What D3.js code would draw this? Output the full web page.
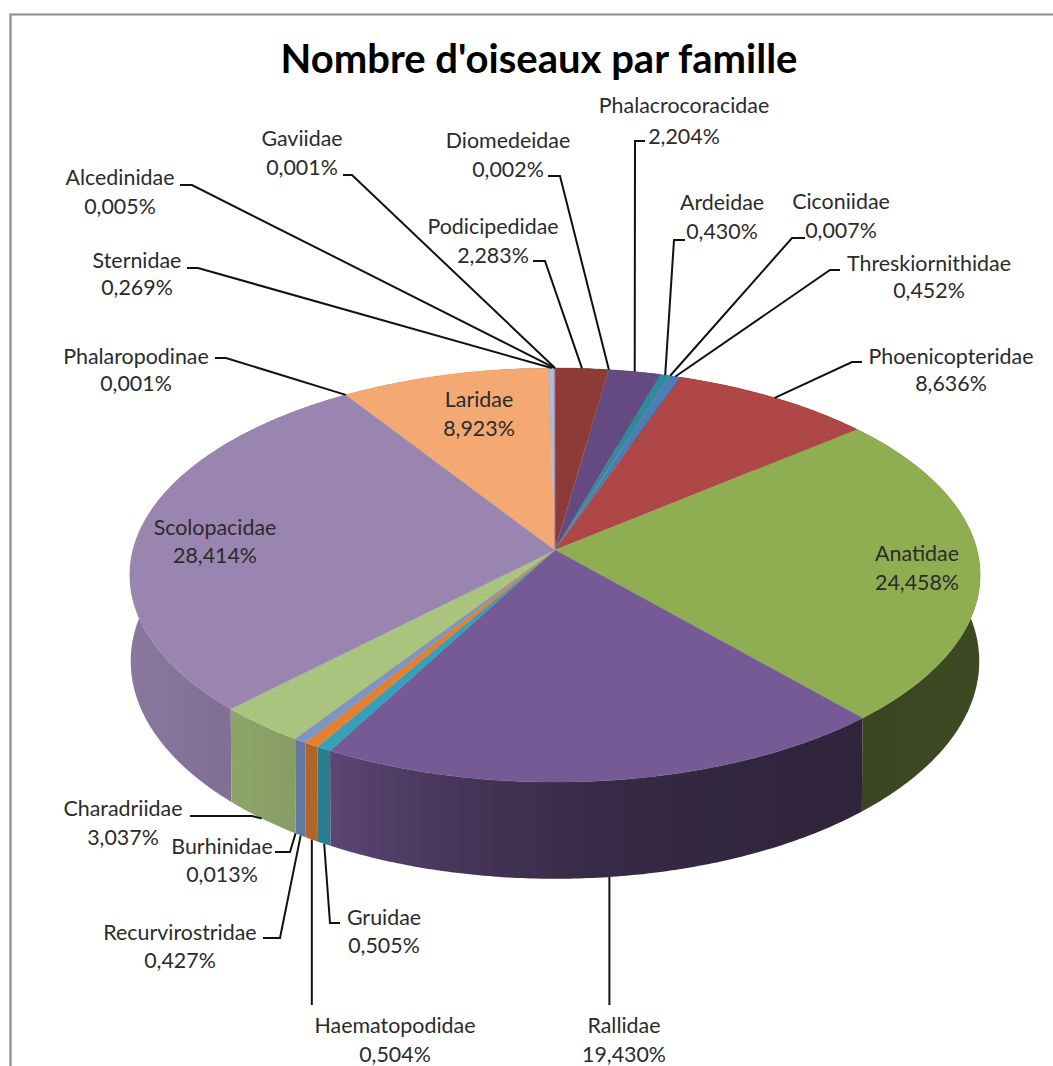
<!DOCTYPE html>
<html>
<head>
<meta charset="utf-8">
<title>Nombre d'oiseaux par famille</title>
<script src="https://cdn.jsdelivr.net/npm/d3@7"></script>
<style>
  html, body { margin: 0; padding: 0; background: #fff; overflow: hidden; }
  text { font-family: Lato, "Open Sans", sans-serif; fill: #2b2b2b; }
  .lbl { font-size: 21.4px; }
  .title { font-size: 40px; font-weight: 700; fill: #000; }
</style>
</head>
<body>
<div id="chart"></div>
<script>
////////////////////// Data //////////////////////
var families = ["Gaviidae","Podicipedidae","Diomedeidae","Phalacrocoracidae","Ardeidae","Ciconiidae",
  "Threskiornithidae","Phoenicopteridae","Anatidae","Rallidae","Gruidae","Haematopodidae",
  "Recurvirostridae","Burhinidae","Charadriidae","Scolopacidae","Phalaropodinae","Laridae",
  "Sternidae","Alcedinidae"];
var shares = [0.001,2.283,0.002,2.204,0.430,0.007,0.452,8.636,24.458,19.430,0.505,0.504,
  0.427,0.013,3.037,28.414,0.001,8.923,0.269,0.005];

////////////////////// Styles and layout //////////////////////
var topColors = ["#4f81bd","#8e3a38","#9bbb59","#644a80","#2f8a9e","#f79646","#4a7ebb","#ae4745",
  "#8fae52","#755a95","#35a0b8","#e08030","#7a96c8","#cd7371","#a9c47e","#9a84b0","#6fbdd1",
  "#f4a872","#a9bcdb","#c0504d"];

// label centre x, first line y, second line y
var labelPos = {
  Gaviidae:[302,139,168], Podicipedidae:[493,227,256], Diomedeidae:[508,141,170],
  Phalacrocoracidae:[684,106,137], Ardeidae:[722,203,232], Ciconiidae:[841,202,231],
  Threskiornithidae:[929,264,291], Phoenicopteridae:[951,357,384], Anatidae:[917,554,583],
  Rallidae:[624,1026,1055], Gruidae:[384,918,946], Haematopodidae:[395,1026,1055],
  Recurvirostridae:[180,933,961], Burhinidae:[222,847,875], Charadriidae:[123,809,838],
  Scolopacidae:[215,528,556], Phalaropodinae:[136,357,384], Laridae:[479,400,429],
  Sternidae:[137,261,288], Alcedinidae:[120,178,207]
};
// leader: stub start x, knee x, y of the stub (knee x null = straight down from the rim)
var leaderPos = {
  Gaviidae:[343,352,175], Podicipedidae:[533,545,261], Diomedeidae:[548,560,176],
  Phalacrocoracidae:[645,635,141], Ardeidae:[685,674,240], Ciconiidae:[805,792,238],
  Threskiornithidae:[840,830,270], Phoenicopteridae:[862,852,362], Rallidae:[null,null,1005],
  Gruidae:[340,330,923], Haematopodidae:[null,null,1005], Recurvirostridae:[263,280,938],
  Burhinidae:[275,290,852], Charadriidae:[190,252,816], Phalaropodinae:[215,226,358],
  Sternidae:[187,198,268], Alcedinidae:[180,192,185]
};

var W = 1053, H = 1066;
var cx = 555, cy = 550, rx = 422, ry = 204, persp = 0.121, depth = 85;

var svg = d3.select("#chart").append("svg").attr("width", W).attr("height", H);
var defs = svg.append("defs");

// frame of the chart area, runs off the right and bottom of the picture
svg.append("path").attr("d", "M10.5," + H + "V14.5H" + W)
  .attr("fill", "none").attr("stroke", "#8c8c8c").attr("stroke-width", 2.2);

svg.append("text").attr("class", "title").attr("x", 539).attr("y", 73)
  .attr("text-anchor", "middle").text("Nombre d'oiseaux par famille");

////////////////////// Pie and projection //////////////////////
var arcs = d3.pie().sort(null).value(function(d) { return d; })(shares);

// perspective view of the pie circle: z = 0 top face, z = 1 bottom face
function project(a, r, z) {
  var u = Math.sin(a) * r, v = Math.cos(a) * r;
  var w = 1 + persp * v;
  var shrink = 1 - 0.002 * z;
  return [cx + rx * shrink * u / w, cy - ry * v / w + z * depth / w];
}

function rimPoints(d, z) {
  var n = Math.max(2, Math.ceil((d.endAngle - d.startAngle) / 0.01));
  return d3.range(n + 1).map(function(i) {
    return project(d.startAngle + (d.endAngle - d.startAngle) * i / n, 1, z);
  });
}

// how dark the side wall gets, going from left to right on the picture
var sideShade = d3.scaleLinear().domain([130, 330, 450, 610, 860, 980]).range([0.9, 0.78, 0.6, 0.46, 0.4, 0.42]).clamp(true);

var line = d3.line();

// side walls, back ones first
var order = arcs.map(function(d, i) { return i; }).sort(function(a, b) {
  return Math.cos((arcs[b].startAngle + arcs[b].endAngle) / 2) - Math.cos((arcs[a].startAngle + arcs[a].endAngle) / 2);
});

order.forEach(function(i) {
  var d = arcs[i];
  var top = rimPoints(d, 0), bot = rimPoints(d, 1);
  var xs = d3.extent(top, function(p) { return p[0]; });
  var grad = defs.append("linearGradient").attr("id", "side" + i)
    .attr("gradientUnits", "userSpaceOnUse")
    .attr("x1", xs[0]).attr("x2", xs[1] + 0.01).attr("y1", 0).attr("y2", 0);
  d3.range(9).forEach(function(k) {
    var x = xs[0] + (xs[1] - xs[0]) * k / 8;
    var c = d3.color(topColors[i]), f = sideShade(x);
    grad.append("stop").attr("offset", k / 8)
      .attr("stop-color", d3.rgb(c.r * f, c.g * f, c.b * f).formatHex());
  });
  svg.append("path").attr("class", "side")
    .attr("d", line(top.concat(bot.slice().reverse())) + "Z")
    .attr("fill", "url(#side" + i + ")");
});

// top faces
arcs.forEach(function(d, i) {
  var pts = [[cx, cy]].concat(rimPoints(d, 0));
  svg.append("path").attr("class", "face")
    .attr("d", line(pts) + "Z")
    .attr("fill", topColors[i])
    .attr("stroke", topColors[i]).attr("stroke-width", 0.4);
});

////////////////////// Leaders //////////////////////
arcs.forEach(function(d, i) {
  var name = families[i], lp = leaderPos[name];
  if (!lp) return;
  var mid = (d.startAngle + d.endAngle) / 2;
  var front = Math.cos(mid) < 0;
  var end = project(mid, 1, front ? 1 : 0);
  var pts;
  if (lp[1] === null) pts = [[end[0], lp[2]], end];
  else pts = [[lp[0], lp[2]], [lp[1], lp[2]], end];
  svg.append("path").attr("d", line(pts))
    .attr("fill", "none").attr("stroke", "#111").attr("stroke-width", 2);
});

////////////////////// Labels //////////////////////
arcs.forEach(function(d, i) {
  var name = families[i], p = labelPos[name];
  var t = svg.append("text").attr("class", "lbl").attr("text-anchor", "middle");
  t.append("tspan").attr("x", p[0]).attr("y", p[1] + 7).text(name);
  t.append("tspan").attr("x", p[0]).attr("y", p[2] + 7).text(shares[i].toFixed(3).replace(".", ",") + "%");
});
</script>
</body>
</html>
